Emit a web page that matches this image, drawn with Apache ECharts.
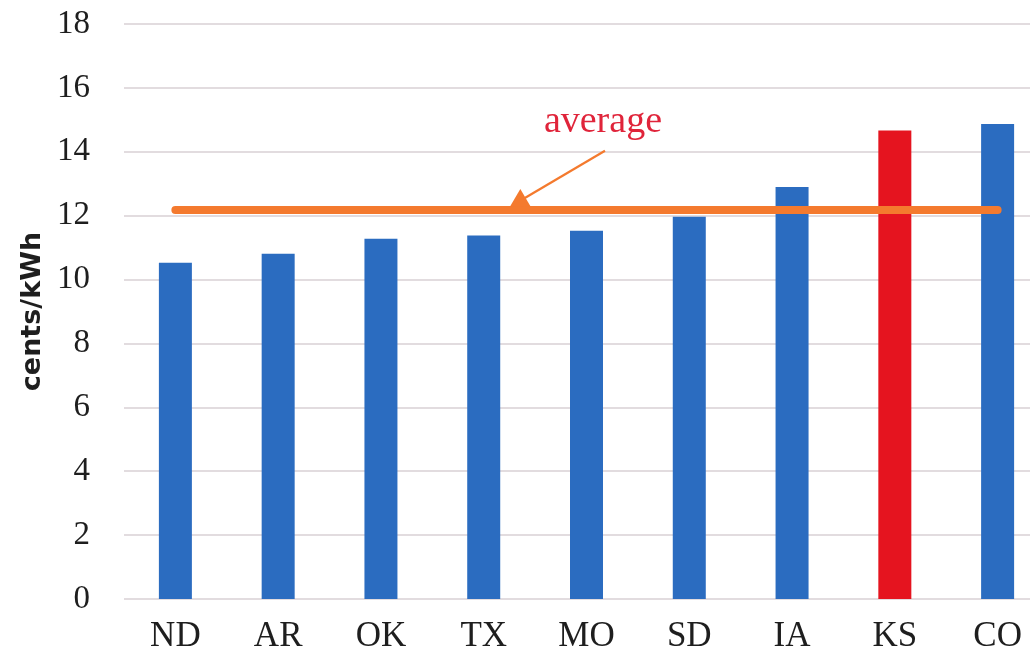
<!DOCTYPE html>
<html>
<head>
<meta charset="utf-8">
<script src="https://cdn.jsdelivr.net/npm/echarts@6/dist/echarts.min.js"></script>
<style>html,body{margin:0;padding:0;background:#fff;overflow:hidden;width:1030px;height:656px;}#c{width:1049px;height:656px;}</style>
</head>
<body>
<div id="c"></div>
<script>
var categories = ['ND','AR','OK','TX','MO','SD','IA','KS','CO'];
var values = [10.53, 10.81, 11.28, 11.38, 11.53, 11.97, 12.9, 14.67, 14.87];
var highlight = 'KS';
var averageValue = 12.2;
var yTicks = [0,2,4,6,8,10,12,14,16,18];
var arrowStart = [4.18, 14.03];
var arrowEnd = [3.33, 12.42];
var labelPos = [4.16, 14.93];

var chart = echarts.init(document.getElementById('c'));
var serif = '"Liberation Serif", "Times New Roman", serif';
chart.setOption({
  animation: false,
  backgroundColor: '#fff',
  grid: {left: 124, right: 0, top: 24, bottom: 57, containLabel: false},
  xAxis: [{
    type: 'category', data: categories,
    axisLine: {show: false}, axisTick: {show: false},
    axisLabel: {fontFamily: serif, fontSize: 35, color: '#1e1e1e', margin: 20}
  }, {
    type: 'value', min: -0.5, max: 8.5, show: false
  }],
  yAxis: {
    type: 'value', min: 0, max: 18, interval: 2,
    name: 'cents/kWh', nameLocation: 'middle', nameGap: 72,
    nameTextStyle: {fontFamily: '"DejaVu Sans", sans-serif', fontWeight: 'bold', fontSize: 27, color: '#1e1e1e'},
    axisLine: {show: false}, axisTick: {show: false},
    axisLabel: {fontFamily: serif, fontSize: 33, color: '#1e1e1e', margin: 34,
      formatter: function (v) { return yTicks.indexOf(v) >= 0 ? String(v) : ''; }},
    splitLine: {lineStyle: {color: '#d9d0d4', width: 1.5}}
  },
  series: [{
    type: 'bar', barWidth: 33,
    data: values.map(function (v, i) {
      return {value: v, itemStyle: {color: categories[i] === highlight ? '#e5141f' : '#2b6cc0'}};
    }),
    markLine: {
      silent: true, symbol: ['none','none'],
      lineStyle: {color: '#f47a2e', width: 8, type: 'solid', cap: 'round'},
      label: {show: false},
      data: [[{coord: [0, averageValue]}, {coord: [categories.length - 1, averageValue]}]]
    }
  }, {
    type: 'line', xAxisIndex: 1, data: [], silent: true,
    markLine: {
      silent: true, symbol: ['none', 'triangle'], symbolSize: [20, 18],
      lineStyle: {color: '#f47a2e', width: 2.2, type: 'solid'},
      label: {show: false},
      data: [[{coord: arrowStart}, {coord: arrowEnd}]]
    },
    markPoint: {
      silent: true, symbolSize: 0,
      label: {show: true, formatter: 'average', fontFamily: serif, fontSize: 38, color: '#e0243a'},
      data: [{coord: labelPos}]
    }
  }]
});
</script>
</body>
</html>
